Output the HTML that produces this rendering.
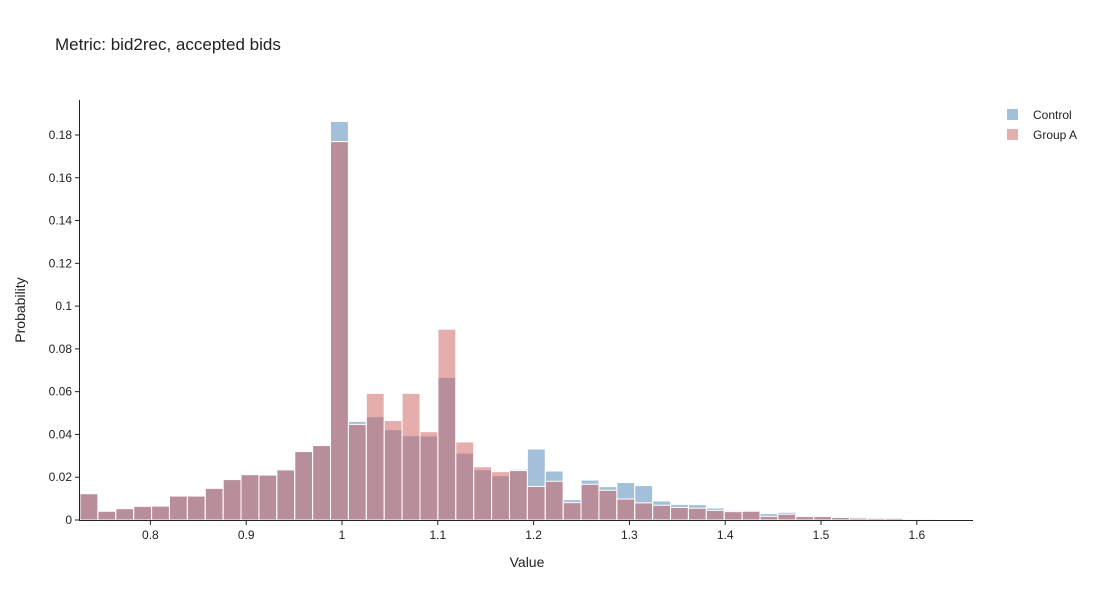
<!DOCTYPE html>
<html><head><meta charset="utf-8"><style>
body{margin:0;background:#fff;}
svg text{font-family:"Liberation Sans",sans-serif;fill:#2a3f5f;}
</style></head><body>
<svg id="chart" width="1100" height="600">
<text x="55" y="50" font-size="17" fill="#222" style="fill:#222">Metric: bid2rec, accepted bids</text>
<g id="bars"></g>
<g id="axes"></g>
<text x="527" y="567" font-size="14" text-anchor="middle" style="fill:#222">Value</text>
<text transform="translate(25,310) rotate(-90)" font-size="14" text-anchor="middle" style="fill:#222">Probability</text>
<g>
<g><rect x="1007" y="109" width="11" height="11" fill="rgb(70,130,180)" opacity="0.5"/><text x="1033" y="119" font-size="12" style="fill:#222">Control</text></g>
<g><rect x="1007" y="129" width="11" height="11" fill="rgb(205,92,92)" opacity="0.5"/><text x="1033" y="139" font-size="12" style="fill:#222">Group A</text></g>
</g>
</svg>
<script>
const binStart = 0.7265;
const binWidth = 0.01868;
const control = [0.0123,0.0041,0.0053,0.0064,0.0065,0.0112,0.0112,0.0148,0.0189,0.0212,0.0210,0.0239,0.0320,0.0348,0.1863,0.0461,0.0483,0.0422,0.0394,0.0393,0.0667,0.0313,0.0235,0.0207,0.0237,0.0332,0.0229,0.0095,0.0187,0.0156,0.0175,0.0161,0.0089,0.0073,0.0072,0.0056,0.0045,0.0045,0.0030,0.0036,0.0019,0.0019,0.0016,0.0014,0.0009,0.0009,0.0006,0.0006,0.0002];
const groupA = [0.0123,0.0041,0.0053,0.0064,0.0065,0.0112,0.0112,0.0148,0.0189,0.0212,0.0210,0.0234,0.0320,0.0348,0.1769,0.0447,0.0592,0.0465,0.0592,0.0413,0.0892,0.0365,0.0249,0.0226,0.0231,0.0157,0.0181,0.0081,0.0167,0.0139,0.0098,0.0080,0.0069,0.0059,0.0055,0.0045,0.0039,0.0041,0.0017,0.0027,0.0016,0.0016,0.0012,0.0009,0.0008,0.0008,0.0005,0.0005,0.0002];
const xTicks = [0.8,0.9,1,1.1,1.2,1.3,1.4,1.5,1.6];
const yTicks = [0,0.02,0.04,0.06,0.08,0.1,0.12,0.14,0.16,0.18];
const xTickLabels = ["0.8","0.9","1","1.1","1.2","1.3","1.4","1.5","1.6"];
const yTickLabels = ["0","0.02","0.04","0.06","0.08","0.1","0.12","0.14","0.16","0.18"];

const NS="http://www.w3.org/2000/svg";
const X0=80,X1=973,Y0=520,YTOP=100;
function xs(v){return 342+(v-1)*958;}
function ys(v){return Y0-v*2139;}
const barsG=document.getElementById('bars');
function drawSeries(vals,color,name){
  vals.forEach((v,i)=>{
    const a=binStart+i*binWidth, b=a+binWidth;
    const r=document.createElementNS(NS,'rect');
    const x=xs(a), w=xs(b)-xs(a);
    r.setAttribute('x',x);r.setAttribute('width',w);
    r.setAttribute('y',ys(v));r.setAttribute('height',Y0-ys(v));
    r.setAttribute('fill',color);r.setAttribute('fill-opacity','0.5');
    r.setAttribute('stroke','#fff');r.setAttribute('stroke-width','1');
    
    
    barsG.appendChild(r);
  });
}
drawSeries(control,'rgb(70,130,180)','control');
drawSeries(groupA,'rgb(205,92,92)','group-a');
const ax=document.getElementById('axes');
function line(x1,y1,x2,y2){const l=document.createElementNS(NS,'line');l.setAttribute('x1',x1);l.setAttribute('y1',y1);l.setAttribute('x2',x2);l.setAttribute('y2',y2);l.setAttribute('stroke','#222');l.setAttribute('stroke-width','1');ax.appendChild(l);return l;}
const xl=line(X0,Y0+0.5,X1,Y0+0.5);


const yl=line(X0-0.5,YTOP,X0-0.5,Y0+1);


xTicks.forEach((v,i)=>{
  const x=xs(v);line(x,Y0,x,Y0+5);
  const t=document.createElementNS(NS,'text');
  t.setAttribute('x',x);t.setAttribute('y',Y0+19);t.setAttribute('font-size','12');t.setAttribute('text-anchor','middle');t.setAttribute('style','fill:#222');
  t.textContent=xTickLabels[i];
  
  
  ax.appendChild(t);
});
yTicks.forEach((v,i)=>{
  const y=ys(v);line(X0-5,y,X0,y);
  const t=document.createElementNS(NS,'text');
  t.setAttribute('x',X0-8);t.setAttribute('y',y+4);t.setAttribute('font-size','12');t.setAttribute('text-anchor','end');t.setAttribute('style','fill:#222');
  t.textContent=yTickLabels[i];
  
  
  ax.appendChild(t);
});
</script>
</body></html>
